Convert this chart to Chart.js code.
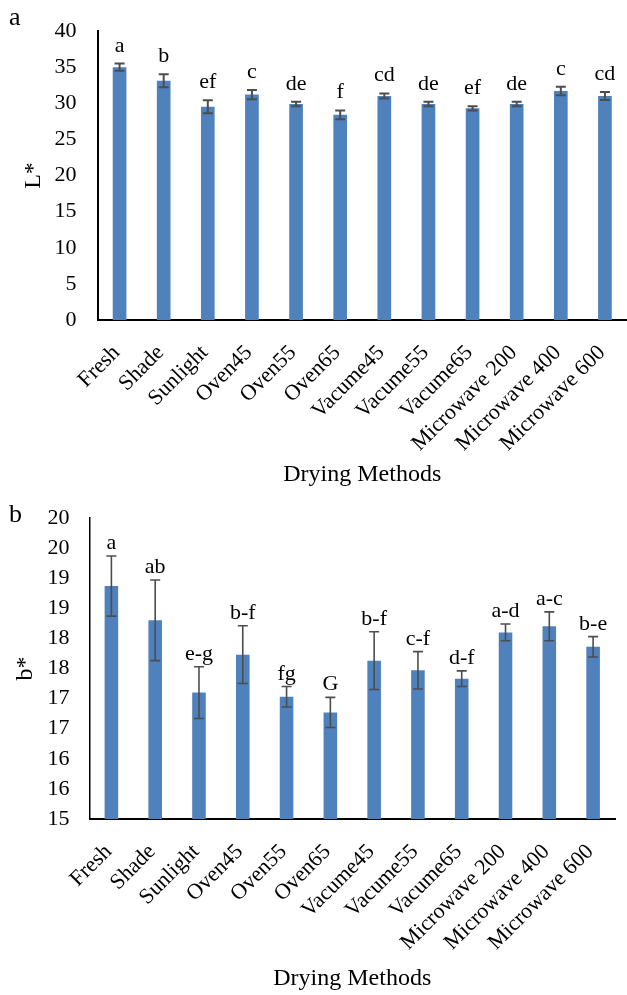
<!DOCTYPE html>
<html>
<head>
<meta charset="utf-8">
<title>Colour of dried samples by drying method</title>
<script src="https://cdn.jsdelivr.net/npm/chart.js@4.4.1/dist/chart.umd.min.js"></script>
<style>
  html, body { margin: 0; padding: 0; background: #ffffff; }
  body { width: 627px; height: 995px; position: relative; overflow: hidden; }
  canvas { position: absolute; left: 0; }
  #chartL { top: 0; }
  #chartB { top: 495px; }
</style>
</head>
<body>
<canvas id="chartL" width="627" height="495"></canvas>
<canvas id="chartB" width="627" height="500"></canvas>
<script>
// Drying treatments (x categories)
const methods = ['Fresh', 'Shade', 'Sunlight', 'Oven45', 'Oven55', 'Oven65',
  'Vacume45', 'Vacume55', 'Vacume65', 'Microwave 200', 'Microwave 400', 'Microwave 600'];

// Panel a: lightness L*
const lightness = [35.0, 33.1, 29.5, 31.2, 29.9, 28.4, 31.0, 29.9, 29.3, 29.9, 31.7, 31.0];
const lightnessErr = [0.5, 0.9, 0.9, 0.65, 0.3, 0.6, 0.35, 0.3, 0.3, 0.3, 0.6, 0.55];
const lightnessGroups = ['a', 'b', 'ef', 'c', 'de', 'f', 'cd', 'de', 'ef', 'de', 'c', 'cd'];
const lightnessTicks = ['0', '5', '10', '15', '20', '25', '30', '35', '40'];

// Panel b: yellowness b*
const yellowness = [18.87, 18.3, 17.1, 17.73, 17.03, 16.77, 17.63, 17.47, 17.33, 18.1, 18.2, 17.86];
const yellownessErr = [0.5, 0.67, 0.43, 0.48, 0.17, 0.25, 0.48, 0.31, 0.13, 0.14, 0.24, 0.17];
const yellownessGroups = ['a', 'ab', 'e-g', 'b-f', 'fg', 'G', 'b-f', 'c-f', 'd-f', 'a-d', 'a-c', 'b-e'];
const yellownessTicks = ['15', '16', '16', '17', '17', '18', '18', '19', '19', '20', '20'];

const SERIF = '"Liberation Serif", "Times New Roman", serif';
const BAR_BLUE = '#4F81BD';
const ERR_GREY = '#4d4d4d';

// Error bars with caps, plus significance letters above each bar
const errorBarPlugin = {
  id: 'errorBars',
  afterDatasetsDraw(chart, args, opts) {
    const ctx = chart.ctx;
    const yScale = chart.scales.y;
    const meta = chart.getDatasetMeta(0);
    const values = chart.data.datasets[0].data;
    ctx.save();
    meta.data.forEach((bar, i) => {
      const v = values[i];
      const e = opts.errors[i];
      const yTop = yScale.getPixelForValue(v + e);
      const yBot = yScale.getPixelForValue(v - e);
      const x = bar.x;
      ctx.strokeStyle = ERR_GREY;
      ctx.lineWidth = opts.lineWidth;
      ctx.beginPath();
      ctx.moveTo(x, yTop); ctx.lineTo(x, yBot);
      ctx.moveTo(x - opts.cap / 2, yTop); ctx.lineTo(x + opts.cap / 2, yTop);
      ctx.moveTo(x - opts.cap / 2, yBot); ctx.lineTo(x + opts.cap / 2, yBot);
      ctx.stroke();
      ctx.fillStyle = '#000000';
      ctx.font = '22px ' + SERIF;
      ctx.textAlign = 'center';
      ctx.textBaseline = 'alphabetic';
      ctx.fillText(opts.groups[i], x, yTop - opts.gap);
    });
    ctx.restore();
  }
};

// Panel letter in the top-left corner
const panelLetterPlugin = {
  id: 'panelLetter',
  afterDraw(chart, args, opts) {
    const ctx = chart.ctx;
    ctx.save();
    ctx.fillStyle = '#000000';
    ctx.font = '26px ' + SERIF;
    ctx.textAlign = 'left';
    ctx.textBaseline = 'alphabetic';
    ctx.fillText(opts.text, opts.x, opts.y);
    ctx.restore();
  }
};

function makeChart(canvasId, cfg) {
  return new Chart(document.getElementById(canvasId), {
    type: 'bar',
    data: {
      labels: methods,
      datasets: [{
        data: cfg.values,
        backgroundColor: BAR_BLUE,
        borderWidth: 0,
        barPercentage: 0.31,
        categoryPercentage: 1.0
      }]
    },
    options: {
      responsive: false,
      animation: false,
      devicePixelRatio: 1,
      layout: { padding: { top: cfg.padTop, right: cfg.padRight, bottom: 0, left: 0 } },
      plugins: {
        legend: { display: false },
        tooltip: { enabled: false },
        errorBars: { errors: cfg.errors, groups: cfg.groups, cap: 10, gap: cfg.gap, lineWidth: cfg.errWidth },
        panelLetter: { text: cfg.panel, x: 9, y: cfg.panelY }
      },
      scales: {
        x: {
          grid: { display: false, drawTicks: false },
          border: { display: true, color: '#000000', width: 2 },
          ticks: {
            color: '#000000',
            font: { family: SERIF, size: 22 },
            minRotation: 45,
            maxRotation: 45,
            autoSkip: false,
            padding: cfg.xTickPad,
            labelOffset: cfg.xLabelOffset
          },
          title: {
            display: true,
            text: 'Drying Methods',
            color: '#000000',
            font: { family: SERIF, size: 24 },
            padding: { top: 0, bottom: cfg.xTitlePad }
          },
          afterFit(scale) {
            scale.height = cfg.xHeight;
            scale.paddingLeft = 0;
            scale.paddingRight = 0;
          }
        },
        y: {
          min: cfg.min,
          max: cfg.max,
          grid: { display: false, drawTicks: false },
          border: { display: true, color: '#000000', width: cfg.yAxisWidth },
          ticks: {
            stepSize: cfg.step,
            autoSkip: false,
            color: '#000000',
            font: { family: SERIF, size: 22 },
            padding: cfg.yTickPad,
            callback: (value, index) => cfg.tickLabels[index]
          },
          title: {
            display: true,
            text: cfg.yTitle,
            color: '#000000',
            font: { family: SERIF, size: 24 },
            padding: { top: cfg.yTitlePad, bottom: 0 }
          },
          afterFit(scale) {
            scale.width = cfg.yWidth;
            scale.paddingTop = 0;
            scale.paddingBottom = 0;
          }
        }
      }
    },
    plugins: [errorBarPlugin, panelLetterPlugin]
  });
}

makeChart('chartL', {
  values: lightness, errors: lightnessErr, groups: lightnessGroups, tickLabels: lightnessTicks,
  min: 0, max: 40, step: 5, yTitle: 'L*', panel: 'a', panelY: 25,
  padTop: 31, padRight: 0, yWidth: 97.5, xHeight: 175, yAxisWidth: 2, errWidth: 2,
  xTickPad: 20, xLabelOffset: -3, xTitlePad: 5.6, yTickPad: 21, yTitlePad: 19, gap: 12
});

makeChart('chartB', {
  values: yellowness, errors: yellownessErr, groups: yellownessGroups, tickLabels: yellownessTicks,
  min: 15, max: 20, step: 0.5, yTitle: 'b*', panel: 'b', panelY: 27,
  padTop: 23, padRight: 12, yWidth: 89.5, xHeight: 176, yAxisWidth: 1.5, errWidth: 1.6,
  xTickPad: 20, xLabelOffset: -3, xTitlePad: 1.6, yTickPad: 20, yTitlePad: 11, gap: 7
});
</script>
</body>
</html>
